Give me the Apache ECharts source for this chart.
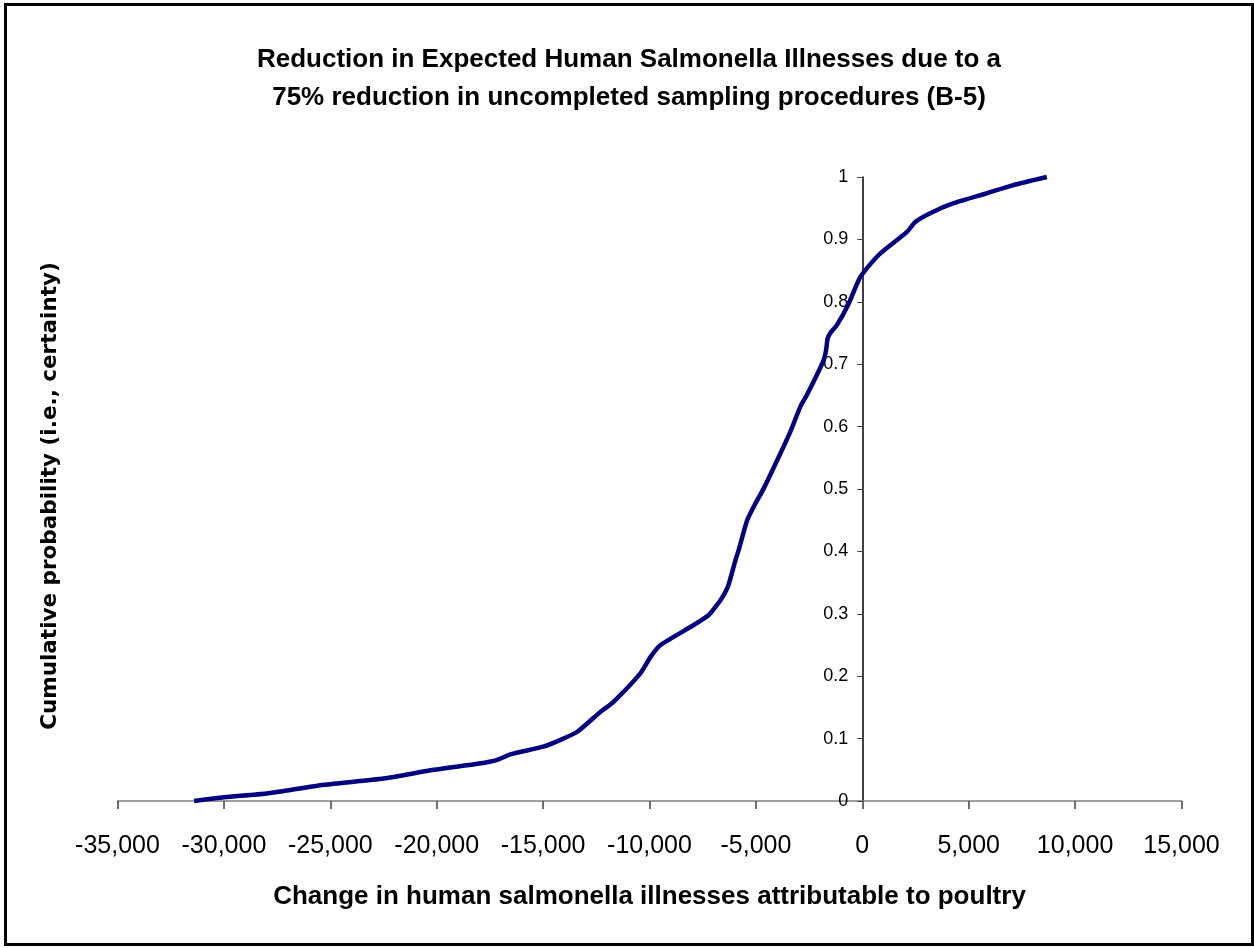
<!DOCTYPE html>
<html>
<head>
<meta charset="utf-8">
<script src="https://cdn.jsdelivr.net/npm/echarts@6/dist/echarts.min.js"></script>
<style>
html,body{margin:0;padding:0;background:#fff;}
#chart{width:1254px;height:948px;}
</style>
</head>
<body>
<div id="chart"></div>
<script>
var titleLines = ["Reduction in Expected Human Salmonella Illnesses due to a", "75% reduction in uncompleted sampling procedures (B-5)"];
var xAxisName = "Change in human salmonella illnesses attributable to poultry";
var yAxisName = "Cumulative probability (i.e., certainty)";

var changeValues = [-31400, -30000, -28000, -25300, -22500, -20140, -18000, -17150, -16500, -15000, -14180, -13390, -12300, -11690, -10420, -9950, -9480, -7920, -7215, -6900, -6600, -6300, -5960, -5810, -5410, -5020, -4630, -4000, -3380, -2910, -2600, -2130, -1810, -1700, -1630, -1500, -1190, -640, -90, 770, 2100, 2490, 3190, 4290, 5850, 7100, 8670];
var cumProb = [0, 0.006, 0.012, 0.026, 0.036, 0.05, 0.06, 0.066, 0.075, 0.087, 0.098, 0.111, 0.143, 0.159, 0.205, 0.231, 0.25, 0.282, 0.298, 0.311, 0.325, 0.345, 0.386, 0.402, 0.45, 0.477, 0.501, 0.546, 0.592, 0.632, 0.651, 0.683, 0.707, 0.723, 0.741, 0.75, 0.763, 0.797, 0.84, 0.875, 0.912, 0.928, 0.942, 0.958, 0.974, 0.987, 1.0];

var data = changeValues.map(function (v, i) { return [v, cumProb[i]]; });

var gridLeft = 117.5, gridRight = 72.5;
var xMin = -35000, xMax = 15000;
var plotW = 1254 - gridLeft - gridRight;
var zeroOffset = -plotW * (0 - xMin) / (xMax - xMin);

var chart = echarts.init(document.getElementById('chart'));
chart.setOption({
  backgroundColor: '#ffffff',
  animation: false,
  title: {
    text: titleLines.join('\n'),
    left: 624, top: 36, textAlign: 'center',
    textStyle: {fontFamily: 'Liberation Sans, Arial, sans-serif', fontWeight: 'bold', fontSize: 26, lineHeight: 38, color: '#000'}
  },
  grid: {left: gridLeft, right: gridRight, top: 177, bottom: 147, containLabel: false},
  xAxis: {
    type: 'value', min: xMin, max: xMax, interval: 5000,
    name: xAxisName, nameLocation: 'middle', nameGap: 83,
    nameTextStyle: {fontFamily: 'Liberation Sans, Arial, sans-serif', fontWeight: 'bold', fontSize: 26, color: '#000'},
    axisLine: {onZero: false, lineStyle: {color: '#808080', width: 1.5}},
    axisTick: {show: true, length: 8, inside: false, lineStyle: {color: '#404040', width: 1.5}},
    axisLabel: {fontFamily: 'Liberation Sans, Arial, sans-serif', fontSize: 25, color: '#000', margin: 33,
      formatter: function (v) { return v.toLocaleString('en-US'); }},
    splitLine: {show: false}
  },
  yAxis: {
    type: 'value', min: 0, max: 1, interval: 0.1,
    position: 'left', offset: zeroOffset,
    axisLine: {onZero: false, lineStyle: {color: '#000', width: 1.5}},
    axisTick: {show: true, length: 5, inside: false, lineStyle: {color: '#404040', width: 1}},
    axisLabel: {fontFamily: 'Liberation Sans, Arial, sans-serif', fontSize: 18, color: '#000', margin: 14,
      formatter: function (v) { return String(Math.round(v * 10) / 10); }},
    splitLine: {show: false}
  },
  graphic: [
    {type: 'rect', shape: {x: 5.5, y: 4.5, width: 1247, height: 940}, style: {fill: 'none', stroke: '#000', lineWidth: 3}, silent: true},
    {type: 'text', x: 50, y: 496, rotation: Math.PI / 2,
      style: {text: yAxisName, font: 'bold 21.5px "DejaVu Sans", sans-serif', fill: '#000', align: 'center', verticalAlign: 'middle'}}
  ],
  series: [{
    type: 'line', data: data, showSymbol: false, smooth: 0.2,
    lineStyle: {color: '#000080', width: 4.5}, clip: false
  }]
});
</script>
</body>
</html>
